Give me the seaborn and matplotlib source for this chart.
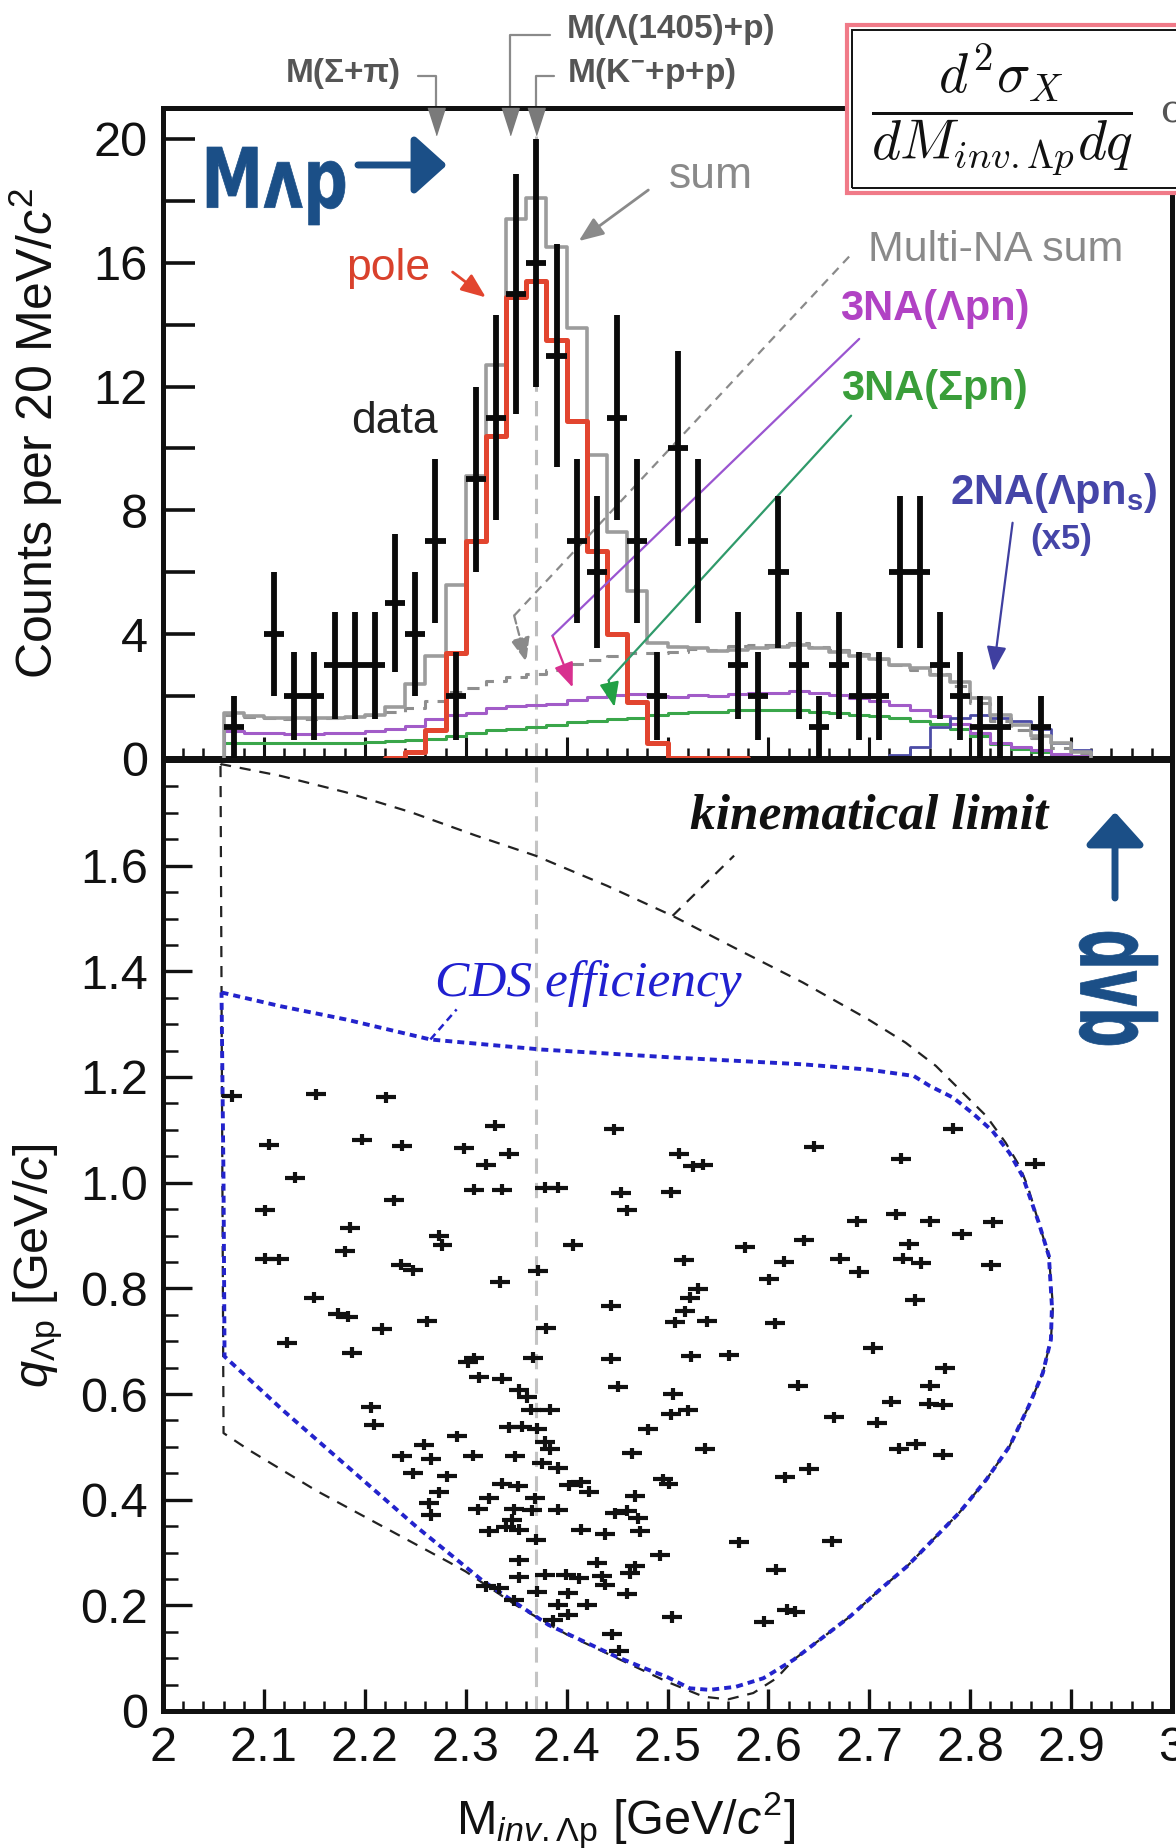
import numpy as np
import seaborn as sns
import matplotlib
matplotlib.use("Agg")
import matplotlib.pyplot as plt
from matplotlib.ticker import MultipleLocator, FixedLocator, FuncFormatter
from matplotlib.patches import Rectangle, PathPatch
from matplotlib.textpath import TextPath
from matplotlib.font_manager import FontProperties
from matplotlib.transforms import Affine2D

# ---- data ----------------------------------------------------------------
bin_lo = np.round(2.06 + 0.02 * np.arange(43), 2)      # 20 MeV bins (lower edges)

counts = [1, 0, 4, 2, 2, 3, 3, 3, 5, 4, 7, 2, 9, 11, 15, 16, 13, 7, 6, 11, 7, 2,
          10, 7, 0, 3, 2, 6, 3, 1, 3, 2, 2, 6, 6, 3, 2, 1, 1, 0, 1, 0, 0]

sum_fit = [1.46, 1.36, 1.30, 1.28, 1.28, 1.30, 1.33, 1.40, 1.66, 2.4, 3.3, 5.6, 9.1,
           12.7, 17.4, 18.1, 16.5, 13.9, 9.8, 7.3, 5.4, 3.7, 3.6, 3.55, 3.46, 3.5,
           3.55, 3.6, 3.66, 3.55, 3.43, 3.3, 3.2, 3.0, 2.9, 2.68, 2.45, 1.93, 1.4,
           1.06, 0.72, 0.48, 0.2]

multi_na = [1.38, 1.32, 1.28, 1.26, 1.26, 1.30, 1.32, 1.38, 1.5, 1.63, 1.85, 2.12,
            2.25, 2.5, 2.63, 2.7, 2.83, 3.03, 3.18, 3.3, 3.38, 3.4, 3.43, 3.52, 3.5,
            3.63, 3.65, 3.65, 3.7, 3.6, 3.5, 3.35, 3.2, 3.0, 2.85, 2.7, 2.33, 1.78,
            1.2, 0.9, 0.65, 0.32, 0.15]

na3_lpn = [0.88, 0.82, 0.8, 0.78, 0.78, 0.8, 0.82, 0.86, 0.95, 1.05, 1.25, 1.4,
           1.45, 1.6, 1.68, 1.7, 1.75, 1.88, 1.98, 2.05, 2.08, 2.0, 1.98, 2.02, 2.0,
           2.08, 2.1, 2.1, 2.15, 2.1, 2.05, 1.95, 1.85, 1.7, 1.55, 1.35, 1.1, 0.8,
           0.5, 0.35, 0.25, 0.12, 0.05]

na3_spn = [0.5, 0.5, 0.48, 0.48, 0.48, 0.5, 0.5, 0.52, 0.55, 0.58, 0.6, 0.72, 0.8,
           0.9, 0.95, 1.0, 1.08, 1.15, 1.2, 1.25, 1.3, 1.4, 1.45, 1.5, 1.5, 1.55,
           1.55, 1.55, 1.55, 1.5, 1.45, 1.4, 1.35, 1.28, 1.2, 1.1, 0.95, 0.7, 0.45,
           0.3, 0.2, 0.1, 0.05]

pole_lo = np.round(2.22 + 0.02 * np.arange(18), 2)
pole = [0, 0.2, 0.9, 3.4, 7.0, 10.4, 14.9, 15.4, 13.5, 10.9, 6.7, 4.0, 1.8, 0.5,
        0, 0, 0, 0]

na2_lo = np.round(2.72 + 0.02 * np.arange(10), 2)
na2_x5 = [0.1, 0.35, 1.0, 1.3, 1.4, 1.3, 1.2, 0.95, 0.5, 0.25]

thr_mass = [2.271, 2.344, 2.370]

evt_M = [2.068, 2.152, 2.221, 2.329, 2.447, 2.105, 2.197, 2.237, 2.298, 2.343, 2.320,
         2.131, 2.308, 2.336, 2.379, 2.391, 2.454, 2.460, 2.229, 2.101, 2.185, 2.274,
         2.277, 2.406, 2.101, 2.115, 2.180, 2.236, 2.248, 2.372, 2.334, 2.150, 2.173,
         2.183, 2.262, 2.217, 2.444, 2.123, 2.187, 2.380, 2.308, 2.302, 2.367, 2.444,
         2.313, 2.336, 2.451, 2.353, 2.361, 2.365, 2.384, 2.206, 2.209, 2.343, 2.356,
         2.371, 2.481, 2.291, 2.259, 2.379, 2.384, 2.237, 2.266, 2.307, 2.349, 2.465,
         2.376, 2.391, 2.248, 2.281, 2.336, 2.352, 2.402, 2.414, 2.422, 2.274, 2.264,
         2.266, 2.323, 2.312, 2.348, 2.369, 2.366, 2.391, 2.468, 2.448, 2.460, 2.471,
         2.346, 2.340, 2.323, 2.353, 2.414, 2.438, 2.473, 2.370,
         2.353, 2.430, 2.468, 2.493, 2.353, 2.379, 2.399, 2.412, 2.435, 2.438, 2.463,
         2.320, 2.333, 2.371, 2.401, 2.460, 2.348, 2.391, 2.420, 2.401, 2.387, 2.504,
         2.445, 2.452,
         2.783, 2.645, 2.731, 2.864, 2.511, 2.525, 2.535, 2.503, 2.688, 2.726, 2.760,
         2.823, 2.792, 2.635, 2.577, 2.739, 2.516, 2.615, 2.671, 2.733, 2.751, 2.821,
         2.690, 2.601, 2.530, 2.522, 2.517, 2.507, 2.539, 2.607, 2.745, 2.704, 2.523,
         2.561, 2.775, 2.629, 2.760, 2.505, 2.722, 2.759, 2.773, 2.503, 2.520, 2.665,
         2.708, 2.537, 2.729, 2.746, 2.773, 2.496, 2.501, 2.616, 2.640, 2.571, 2.663,
         2.608, 2.618, 2.626, 2.596]
evt_q = [1.164, 1.167, 1.162, 1.108, 1.101, 1.072, 1.081, 1.070, 1.065, 1.055, 1.034,
         1.009, 0.987, 0.987, 0.990, 0.990, 0.981, 0.948, 0.967, 0.948, 0.915, 0.900,
         0.882, 0.882, 0.856, 0.855, 0.870, 0.845, 0.834, 0.833, 0.812, 0.782, 0.752,
         0.746, 0.738, 0.723, 0.767, 0.697, 0.678, 0.724, 0.668, 0.660, 0.669, 0.667,
         0.632, 0.629, 0.614, 0.608, 0.594, 0.570, 0.570, 0.575, 0.542, 0.537, 0.538,
         0.534, 0.533, 0.520, 0.504, 0.510, 0.495, 0.482, 0.477, 0.483, 0.482, 0.488,
         0.469, 0.460, 0.450, 0.444, 0.430, 0.425, 0.427, 0.433, 0.415, 0.414, 0.393,
         0.371, 0.403, 0.382, 0.382, 0.403, 0.380, 0.381, 0.407, 0.374, 0.379, 0.365,
         0.362, 0.349, 0.340, 0.343, 0.343, 0.335, 0.340, 0.324,
         0.285, 0.281, 0.274, 0.295, 0.253, 0.258, 0.258, 0.251, 0.255, 0.239, 0.261,
         0.236, 0.232, 0.226, 0.223, 0.222, 0.210, 0.201, 0.201, 0.182, 0.172, 0.178,
         0.145, 0.114,
         1.102, 1.068, 1.045, 1.036, 1.055, 1.031, 1.034, 0.982, 0.927, 0.940, 0.927,
         0.925, 0.902, 0.891, 0.878, 0.883, 0.853, 0.850, 0.856, 0.856, 0.848, 0.844,
         0.831, 0.817, 0.799, 0.782, 0.757, 0.736, 0.738, 0.734, 0.778, 0.687, 0.671,
         0.673, 0.649, 0.616, 0.616, 0.600, 0.585, 0.582, 0.580, 0.562, 0.569, 0.556,
         0.546, 0.496, 0.496, 0.505, 0.485, 0.439, 0.430, 0.442, 0.458, 0.319, 0.321,
         0.267, 0.192, 0.188, 0.169]

kin_M = [2.057, 2.058, 2.1165, 2.181, 2.246, 2.310, 2.369, 2.440, 2.505, 2.569, 2.634,
         2.699, 2.736, 2.766, 2.796, 2.816, 2.835, 2.849, 2.857, 2.868, 2.878, 2.882,
         2.880, 2.872, 2.858, 2.839, 2.816, 2.789, 2.763, 2.737, 2.710, 2.681, 2.651,
         2.625, 2.608, 2.585, 2.560, 2.536, 2.50, 2.45, 2.40, 2.35, 2.30, 2.284, 2.218,
         2.152, 2.086, 2.060, 2.057]
kin_q = [1.79, 1.792, 1.770, 1.739, 1.701, 1.657, 1.619, 1.562, 1.505, 1.442, 1.379,
         1.309, 1.265, 1.221, 1.164, 1.126, 1.076, 1.031, 0.993, 0.924, 0.861, 0.766,
         0.703, 0.640, 0.577, 0.501, 0.438, 0.375, 0.324, 0.273, 0.229, 0.179, 0.135,
         0.097, 0.062, 0.034, 0.022, 0.027, 0.055, 0.10, 0.145, 0.20, 0.264, 0.281,
         0.349, 0.417, 0.493, 0.526, 1.79]

cds_M = [2.058, 2.1165, 2.181, 2.265, 2.375, 2.5045, 2.634, 2.699, 2.744, 2.760, 2.783,
         2.802, 2.822, 2.839, 2.852, 2.868, 2.878, 2.881, 2.880, 2.872, 2.858, 2.839,
         2.816, 2.789, 2.763, 2.737, 2.710, 2.681, 2.651, 2.625, 2.595, 2.568, 2.542,
         2.522, 2.499, 2.481, 2.448, 2.382, 2.3165, 2.251, 2.185, 2.119, 2.061, 2.060,
         2.058]
cds_q = [1.360, 1.334, 1.309, 1.271, 1.252, 1.237, 1.224, 1.214, 1.202, 1.183, 1.161,
         1.132, 1.098, 1.056, 1.012, 0.924, 0.861, 0.766, 0.703, 0.640, 0.577, 0.501,
         0.438, 0.375, 0.324, 0.273, 0.229, 0.179, 0.135, 0.097, 0.062, 0.046, 0.040,
         0.043, 0.065, 0.078, 0.104, 0.163, 0.247, 0.349, 0.459, 0.569, 0.671, 1.0,
         1.360]


def step_xy(lo, vals, width=0.02):
    lo = np.asarray(lo, float)
    edges = np.append(lo, lo[-1] + width)
    return np.r_[edges[0], edges], np.r_[0.0, vals, 0.0]


# ---- style ---------------------------------------------------------------
sns.set_theme(style="ticks")
plt.rcParams["font.family"] = ["Liberation Sans", "DejaVu Sans"]
plt.rcParams["mathtext.fontset"] = "custom"
plt.rcParams["mathtext.rm"] = "Liberation Sans"
plt.rcParams["mathtext.it"] = "Liberation Sans:italic"
plt.rcParams["mathtext.bf"] = "Liberation Sans:bold"

W, H = 1176, 1848
fig = plt.figure(figsize=(W / 100, H / 100), dpi=100)
fig.patch.set_facecolor("white")


def fx(px):
    return px / W


def fy(py):
    return 1 - py / H


ax_top = fig.add_axes([fx(163), fy(758), fx(1172) - fx(163), fy(108) - fy(758)])
ax_bot = fig.add_axes([fx(163), fy(1711), fx(1172) - fx(163), fy(760) - fy(1711)])

for ax in (ax_top, ax_bot):
    ax.set_facecolor("white")
    ax.set_xlim(2, 3)
    for s in ax.spines.values():
        s.set_linewidth(3.6)
        s.set_color("#111111")
    ax.xaxis.set_major_locator(MultipleLocator(0.1))
    ax.xaxis.set_minor_locator(MultipleLocator(0.02))
    ax.tick_params(which="both", direction="in", top=False, right=False,
                   colors="#111111", labelsize=35, pad=11)

head = dict(arrowstyle="-|>,head_length=0.75,head_width=0.3", mutation_scale=20,
            shrinkA=0, shrinkB=0)

# ---- top panel: histogram ------------------------------------------------
ax = ax_top
ax.set_ylim(0, 21)
ax.yaxis.set_major_locator(MultipleLocator(4))
ax.yaxis.set_minor_locator(MultipleLocator(2))
ax.tick_params(axis="y", which="both", length=23, width=2.6)
ax.tick_params(axis="x", which="major", length=15, width=2.2)
ax.tick_params(axis="x", which="minor", length=7, width=1.8)
ax.tick_params(axis="x", labelbottom=False)

ax.axvline(thr_mass[2], ymin=0, ymax=20.1 / 21, color="#bdbdbd", lw=2.2,
           ls=(0, (5, 3)), zorder=1)

x, y = step_xy(bin_lo, na3_spn)
sns.lineplot(x=x, y=y, drawstyle="steps-post", estimator=None, sort=False,
             color="#3aa64a", lw=2.2, ax=ax, zorder=2)
x, y = step_xy(bin_lo, na3_lpn)
sns.lineplot(x=x, y=y, drawstyle="steps-post", estimator=None, sort=False,
             color="#a25cc8", lw=2.2, ax=ax, zorder=2)
x, y = step_xy(na2_lo, na2_x5)
sns.lineplot(x=x, y=y, drawstyle="steps-post", estimator=None, sort=False,
             color="#4c4ca6", lw=2.0, ax=ax, zorder=2)
x, y = step_xy(bin_lo, multi_na)
ax.plot(x, y, drawstyle="steps-post", color="#8e8e8e", lw=2.2, ls=(0, (4, 3)), zorder=2)
x, y = step_xy(bin_lo, sum_fit)
sns.lineplot(x=x, y=y, drawstyle="steps-post", estimator=None, sort=False,
             color="#9c9c9c", lw=2.6, ax=ax, zorder=3)
x, y = step_xy(pole_lo, pole)
sns.lineplot(x=x, y=y, drawstyle="steps-post", estimator=None, sort=False,
             color="#e2452f", lw=3.6, ax=ax, zorder=4)

cnt = np.asarray(counts, float)
ctr = bin_lo + 0.01
m = cnt > 0
ax.errorbar(ctr[m], cnt[m], yerr=np.sqrt(cnt[m]), xerr=0.01, fmt="none",
            ecolor="#0a0a0a", elinewidth=4.2, capsize=0, zorder=5)

ax.set_ylabel("Counts per 20 MeV/$c^2$", fontsize=36, color="#111111")
ax.yaxis.set_label_coords(-0.097, 0.5)

# threshold markers above the frame
ax.plot(thr_mass, [21] * 3, ls="none", marker=[(-0.32, 0), (0.32, 0), (0, -1)],
        ms=39, color="#7a7a7a", clip_on=False, zorder=6)
lead = dict(color="#8a8a8a", lw=1.6, clip_on=False)
ax.plot([2.2525, thr_mass[0], thr_mass[0]], [22.03, 22.03, 21], **lead)
ax.plot([2.384, thr_mass[1], thr_mass[1]], [23.36, 23.36, 21], **lead)
ax.plot([2.388, thr_mass[2], thr_mass[2]], [22.03, 22.03, 21], **lead)
thr_kw = dict(fontsize=24, fontweight="bold", color="#555555", va="center", clip_on=False)
ax.text(2.236, 22.1, "M(Σ+π)", ha="right", **thr_kw)
ax.text(2.400, 23.55, "M(Λ(1405)+p)", ha="left", **thr_kw)
ax.text(2.400, 22.13, r"M(K$^{\mathbf{-}}$+p+p)", ha="left", **thr_kw)

# labels and pointers
ax.text(2.5425, 18.78, "sum", color="#8a8a8a", fontsize=32, ha="center", va="center")
ax.annotate("", xy=(2.412, 16.7), xytext=(2.481, 18.35),
            arrowprops=dict(color="#8a8a8a", lw=2, **head))
ax.text(2.2233, 15.82, "pole", color="#d9412c", fontsize=32, ha="center", va="center")
ax.annotate("", xy=(2.320, 14.88), xytext=(2.287, 15.7),
            arrowprops=dict(color="#e2452f", lw=2, **head))
ax.text(2.229, 10.86, "data", color="#222222", fontsize=32, ha="center", va="center")

ax.text(2.825, 16.42, "Multi-NA sum", color="#8a8a8a", fontsize=31, ha="center", va="center")
ax.plot([2.68, 2.348], [16.2, 4.6], color="#8a8a8a", lw=1.6, ls=(0, (4, 3)), zorder=4)
ax.annotate("", xy=(2.36, 3.1), xytext=(2.348, 4.6),
            arrowprops=dict(color="#8a8a8a", lw=1.6, ls="--", **head))

ax.text(2.765, 14.5, "3NA(Λpn)", color="#b142c4", fontsize=30, fontweight="bold",
        ha="center", va="center")
ax.plot([2.69, 2.386], [13.54, 3.95], color="#9a55d0", lw=1.6, zorder=4)
ax.annotate("", xy=(2.406, 2.28), xytext=(2.386, 3.95),
            arrowprops=dict(color="#d8308f", lw=1.6, **head))

ax.text(2.765, 11.93, "3NA(Σpn)", color="#3a9e3a", fontsize=30, fontweight="bold",
        ha="center", va="center")
ax.plot([2.682, 2.4417], [11.06, 2.51], color="#2f9a6a", lw=1.6, zorder=4)
ax.annotate("", xy=(2.4475, 1.65), xytext=(2.4417, 2.51),
            arrowprops=dict(color="#22a045", lw=1.6, **head))

ax.text(2.8825, 8.57, r"2NA(Λpn$_{\mathbf{s}}$)", color="#4545a8", fontsize=30,
        fontweight="bold", ha="center", va="center")
ax.text(2.89, 7.05, "(x5)", color="#4545a8", fontsize=25, fontweight="bold",
        ha="center", va="center")
ax.annotate("", xy=(2.823, 2.8), xytext=(2.842, 7.6),
            arrowprops=dict(color="#3f3fa0", lw=1.6, **head))

# ---- bottom panel: q vs M ------------------------------------------------
ax = ax_bot
ax.set_ylim(0, 1.8)
ax.yaxis.set_major_locator(FixedLocator([0, 0.2, 0.4, 0.6, 0.8, 1.0, 1.2, 1.4, 1.6]))
ax.yaxis.set_minor_locator(MultipleLocator(0.05))
ax.yaxis.set_major_formatter(FuncFormatter(lambda v, p: "0" if abs(v) < 1e-9 else f"{v:.1f}"))
ax.xaxis.set_major_formatter(FuncFormatter(lambda v, p: f"{v:.1f}".rstrip("0").rstrip(".")))
ax.tick_params(axis="y", which="major", length=21, width=2.4)
ax.tick_params(axis="y", which="minor", length=11, width=1.8)
ax.tick_params(axis="x", which="major", length=16, width=2.4)
ax.tick_params(axis="x", which="minor", length=7, width=1.8)

ax.axvline(thr_mass[2], color="#c4c4c4", lw=2.2, ls=(0, (5, 3)), zorder=1)
ax.plot(kin_M, kin_q, color="#222222", lw=1.6, ls=(0, (5, 4)), zorder=2)
ax.plot(cds_M, cds_q, color="#2323cc", lw=2.8, ls=(0, (1.8, 1.3)), zorder=3)
ax.plot([2.505, 2.566], [1.505, 1.619], color="#222222", lw=1.6, ls=(0, (5, 4)))
ax.plot([2.265, 2.291], [1.271, 1.328], color="#2323cc", lw=1.8, ls=(0, (3, 2)))

ax.errorbar(evt_M, evt_q, xerr=0.0099, yerr=0.0105, fmt="none", ecolor="#111111",
            elinewidth=3.0, capsize=0, zorder=4)

ax.text(2.6996, 1.694, "kinematical limit", family="Liberation Serif", style="italic",
        fontweight="bold", fontsize=37, color="#111111", ha="center", va="center")
ax.text(2.421, 1.377, "CDS efficiency", family="Liberation Serif", style="italic",
        fontsize=37, color="#2020d0", ha="center", va="center")

ax.set_ylabel(r"$q_{\Lambda\mathrm{p}}$ [GeV/$c$]", fontsize=35, color="#111111")
ax.yaxis.set_label_coords(-0.097, 0.468)
ax.set_xlabel(r"M$_{\mathit{inv}.\Lambda\mathrm{p}}$ [GeV/$c^2$]", fontsize=35,
              color="#111111")
ax.xaxis.set_label_coords(0.458, -0.083)

# ---- overlays: formula box and hand-drawn notes --------------------------
fig.add_artist(Rectangle((fx(847), fy(193)), (1195 - 847) / W, 168 / H,
                         transform=fig.transFigure, fc="white", ec="#f07a88",
                         lw=3.0, zorder=10))
fig.add_artist(Rectangle((fx(852), fy(188)), (1195 - 852) / W, 158 / H,
                         transform=fig.transFigure, fc="none", ec="#111111",
                         lw=1.4, zorder=10))
fig.text(fx(1002), fy(110), r"$\dfrac{d^2\sigma_X}{dM_{inv.\Lambda p}dq}$",
         math_fontfamily="cm", fontsize=40, ha="center", va="center", zorder=11,
         color="#111111")
fig.text(fx(1160), fy(112), "c", family="DejaVu Serif", fontsize=28, color="#555555",
         ha="left", va="center", zorder=11)

HAND = "#1b4f87"


def hand_text(s, x0, y0, w, h, angle=0):
    tp = TextPath((0, 0), s, size=100,
                  prop=FontProperties(family="DejaVu Sans", weight="bold"))
    bb = tp.get_extents()
    tr = (Affine2D().translate(-bb.x0, -bb.y0)
          .scale(w / bb.width, h / bb.height).rotate_deg(angle).translate(x0, y0))
    fig.add_artist(PathPatch(tp, transform=tr, fc=HAND, ec=HAND, lw=0.5, zorder=12))


hand_text("Mʌp", 207, H - 225, 138, 78)
hand_text("qʌp", 1158, H - 1045, 113, 79, angle=90)
arrow_kw = dict(arrowstyle="-|>,head_length=0.5,head_width=0.45", mutation_scale=40,
                lw=5, color=HAND, shrinkA=0, shrinkB=0)
ax_top.annotate("", xy=(447, H - 165), xycoords="figure pixels",
                xytext=(358, H - 165), textcoords="figure pixels",
                arrowprops=arrow_kw, annotation_clip=False)
ax_bot.annotate("", xy=(1115, H - 812), xycoords="figure pixels",
                xytext=(1115, H - 898), textcoords="figure pixels",
                arrowprops=arrow_kw, annotation_clip=False)

fig.savefig("out.png", dpi=100, facecolor="white")
